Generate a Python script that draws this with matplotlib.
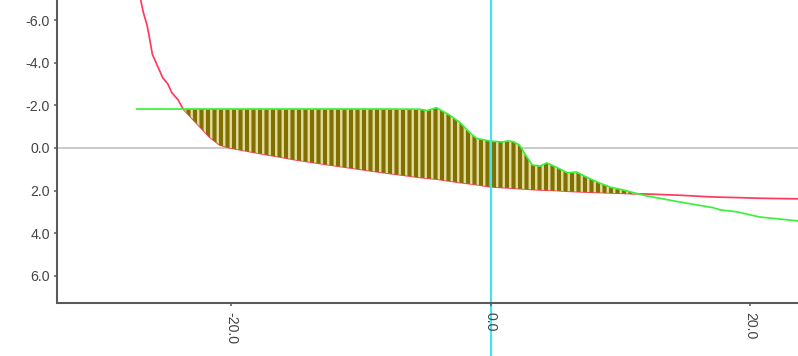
import matplotlib
matplotlib.use("Agg")
import matplotlib.pyplot as plt
import matplotlib.transforms as mtransforms
from matplotlib.ticker import FormatStrFormatter
import numpy as np

# shared sample positions along the horizontal axis
x_pos = [-27.3, -27.0, -26.8, -26.5, -26.3, -26.1, -25.7, -25.3, -24.9, -24.6,
         -24.1, -23.75, -22.7, -21.7, -20.9, -20.1, -17.6, -15.0, -12.4, -8.6,
         -5.5, -4.9, -4.2, -3.2, -2.4, -1.6, -1.1, -0.1, 0.9, 1.3,
         1.7, 2.2, 2.8, 3.2, 3.8, 4.3, 5.1, 5.9, 6.6, 7.4,
         8.4, 9.2, 10.2, 11.0, 12.0, 14.6, 17.1, 17.7, 19.0, 20.7, 23.75]

# upper curve (green)
green_vals = [-1.83, -1.83, -1.83, -1.83, -1.83, -1.83, -1.83, -1.83, -1.83, -1.83,
              -1.83, -1.83, -1.83, -1.83, -1.83, -1.83, -1.83, -1.83, -1.83, -1.83,
              -1.82, -1.76, -1.89, -1.55, -1.20, -0.70, -0.45, -0.33, -0.28, -0.33,
              -0.30, -0.14, 0.45, 0.80, 0.85, 0.70, 0.92, 1.17, 1.13, 1.38,
              1.65, 1.84, 1.97, 2.10, 2.25, 2.54, 2.80, 2.91, 3.00, 3.24, 3.43]

# lower curve (red)
red_vals = [-7.60, -6.95, -6.38, -5.75, -5.10, -4.40, -3.85, -3.30, -3.00, -2.60,
            -2.25, -1.85, -1.17, -0.52, -0.14, 0.00, 0.28, 0.56, 0.80, 1.13,
            1.38, 1.42, 1.46, 1.55, 1.62, 1.68, 1.72, 1.82, 1.86, 1.87,
            1.89, 1.91, 1.93, 1.95, 1.97, 1.98, 2.00, 2.03, 2.05, 2.07,
            2.09, 2.11, 2.13, 2.15, 2.16, 2.22, 2.30, 2.31, 2.33, 2.36, 2.39]

y_ticks = [-6, -4, -2, 0, 2, 4, 6]
x_ticks = [-20, 0, 20]
x_marker = 0.0

DPI = 78
W, H = 799, 356
plt.rcParams['font.family'] = ['Liberation Sans', 'DejaVu Sans']
plt.rcParams['hatch.linewidth'] = 2.2

fig = plt.figure(figsize=(W / DPI, H / DPI), dpi=DPI)
fig.patch.set_facecolor('white')
ax = fig.add_axes([57 / W, 53 / H, 742 / W, 303 / H])
ax.set_facecolor('white')

x = np.array(x_pos)
g = np.array(green_vals)
r = np.array(red_vals)

ax.axhline(0, color='#c4c4c4', lw=1.6, zorder=0.5)
ax.plot(x, r, color='#ff3a5c', lw=1.6, zorder=0.8)
ax.fill_between(x, g, r, where=g < r, interpolate=True,
                facecolor='#7f7000', edgecolor='#e4dc9e', hatch='||',
                linewidth=0, zorder=0.9)
ax.plot(x, g, color='#3cf03c', lw=1.6, zorder=1.2)

# vertical marker reaching down past the axis
trans = mtransforms.blended_transform_factory(ax.transData, ax.transAxes)
ax.plot([x_marker, x_marker], [-53 / 303, 1.0], transform=trans,
        color='#3fe3f2', lw=2.0, clip_on=False, zorder=1.4)

ax.set_xlim(-33.45, 23.75)
ax.set_ylim(7.28, -6.95)
ax.set_yticks(y_ticks)
ax.set_xticks(x_ticks)
ax.yaxis.set_major_formatter(FormatStrFormatter('%.1f'))
ax.xaxis.set_major_formatter(FormatStrFormatter('%.1f'))

for s in ('top', 'right'):
    ax.spines[s].set_visible(False)
for s in ('left', 'bottom'):
    ax.spines[s].set_color('#5a5a5a')
    ax.spines[s].set_linewidth(1.9)

ax.tick_params(axis='both', colors='#5a5a5a', length=3, width=1.4,
               labelsize=13, labelcolor='#444444')
ax.tick_params(axis='y', pad=3.5)
ax.tick_params(axis='x', pad=5.5)
for lbl in ax.get_xticklabels():
    lbl.set_rotation(-90)

fig.savefig('out.png', dpi=DPI, facecolor='white')
